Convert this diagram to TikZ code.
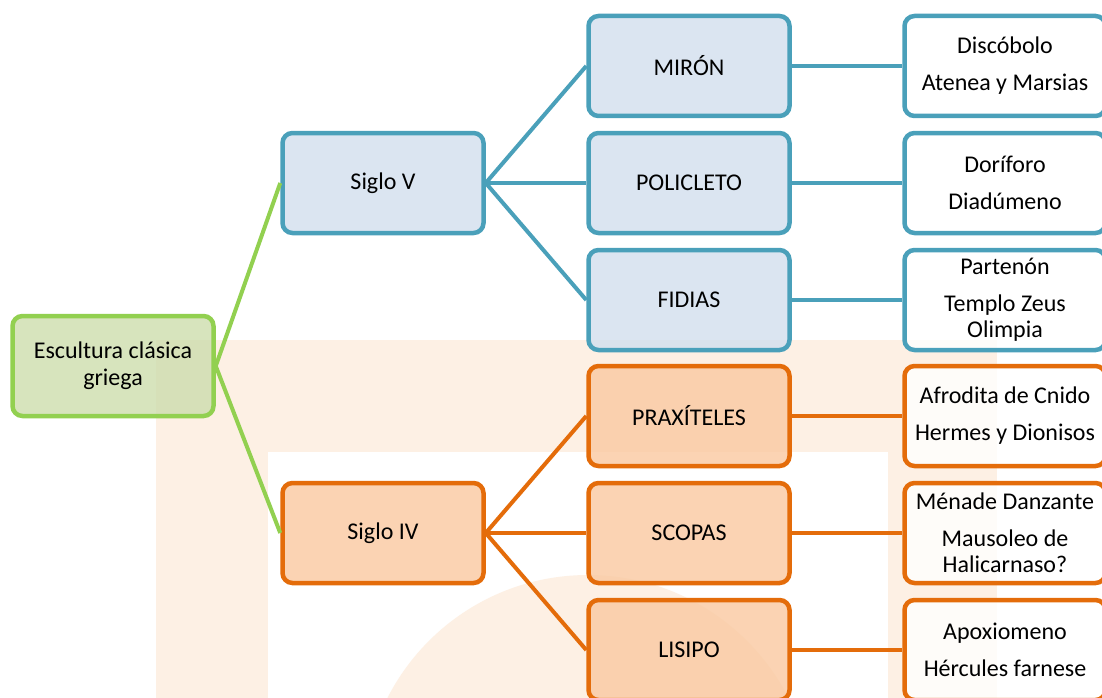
\documentclass[tikz,border=0pt]{standalone}
\usepackage{fontspec}
\setmainfont{Carlito}

\definecolor{grnline}{RGB}{146,208,80}
\definecolor{grnfill}{RGB}{205,221,173}
\definecolor{bluline}{RGB}{74,160,186}
\definecolor{blufill}{RGB}{210,223,238}
\definecolor{orgline}{RGB}{228,108,10}
\definecolor{orgfill}{RGB}{250,201,161}
\definecolor{marcafill}{RGB}{253,240,228}

\tikzset{
    caja/.style={rectangle, rounded corners=10pt, line width=4.5pt,
        minimum width=201pt, minimum height=100pt, inner sep=2pt,
        align=center, font=\fontsize{24}{26}\selectfont,
        fill opacity=0.8, text opacity=1},
    raiz/.style={caja, draw=grnline, fill=grnfill},
    autorazul/.style={caja, draw=bluline, fill=blufill},
    autornaranja/.style={caja, draw=orgline, fill=orgfill},
    obraazul/.style={caja, draw=bluline, fill=white},
    obranaranja/.style={caja, draw=orgline, fill=white},
    rama/.style={line width=4pt}
}

\begin{document}
\begin{tikzpicture}[x=1pt,y=-1pt]

            \path[use as bounding box] (0,0) rectangle (1102,698);
            \clip (0,0) rectangle (1102,698);

            % marca de agua
            \fill[marcafill] (156,340) rectangle (997,698);
            \fill[white] (268,452) rectangle (888,698);
            \fill[marcafill] (588,800) circle [radius=225];

            % raiz
            \node[raiz] (esc) at (113,366) {Escultura clásica\\[1pt]griega};

            % siglos
            \node[autorazul] (sv) at (383,183) {Siglo V};
            \node[autornaranja] (siv) at (383,533) {Siglo IV};

            % Siglo V
            \node[autorazul] (miron) at (689,66) {MIRÓN};
            \node[autorazul] (policleto) at (689,183) {POLICLETO};
            \node[autorazul] (fidias) at (689,300) {FIDIAS};

            % Siglo IV
            \node[autornaranja] (praxiteles) at (689,416) {PRAXÍTELES};
            \node[autornaranja] (scopas) at (689,533) {SCOPAS};
            \node[autornaranja] (lisipo) at (689,650) {LISIPO};

            % obras
            \node[obraazul] (obmiron) at (1005,66) {Discóbolo\\[11pt]Atenea y Marsias};
            \node[obraazul] (obpoli) at (1005,183) {Doríforo\\[11pt]Diadúmeno};
            \node[obraazul] (obfidias) at (1005,300) {Partenón\\[11pt]Templo Zeus\\Olimpia};
            \node[obranaranja] (obprax) at (1005,416) {Afrodita de Cnido\\[11pt]Hermes y Dionisos};
            \node[obranaranja] (obscopas) at (1005,533) {Ménade Danzante\\[11pt]Mausoleo de\\Halicarnaso?};
            \node[obranaranja] (oblisipo) at (1005,650) {Apoxiomeno\\[11pt]Hércules farnese};

            % ramas
            \draw[rama, grnline] (esc.east) -- (sv.west);
            \draw[rama, grnline] (esc.east) -- (siv.west);

            % |
            \draw[rama, bluline] (sv.east) -- (miron.west);
            \draw[rama, bluline] (sv.east) -- (policleto.west);
            \draw[rama, bluline] (sv.east) -- (fidias.west);
            \draw[rama, orgline] (siv.east) -- (praxiteles.west);
            \draw[rama, orgline] (siv.east) -- (scopas.west);
            \draw[rama, orgline] (siv.east) -- (lisipo.west);

            % --
            \draw[rama, bluline] (miron.east) -- (obmiron.west);
            \draw[rama, bluline] (policleto.east) -- (obpoli.west);
            \draw[rama, bluline] (fidias.east) -- (obfidias.west);
            \draw[rama, orgline] (praxiteles.east) -- (obprax.west);
            \draw[rama, orgline] (scopas.east) -- (obscopas.west);
            \draw[rama, orgline] (lisipo.east) -- (oblisipo.west);

\end{tikzpicture}
\end{document}
